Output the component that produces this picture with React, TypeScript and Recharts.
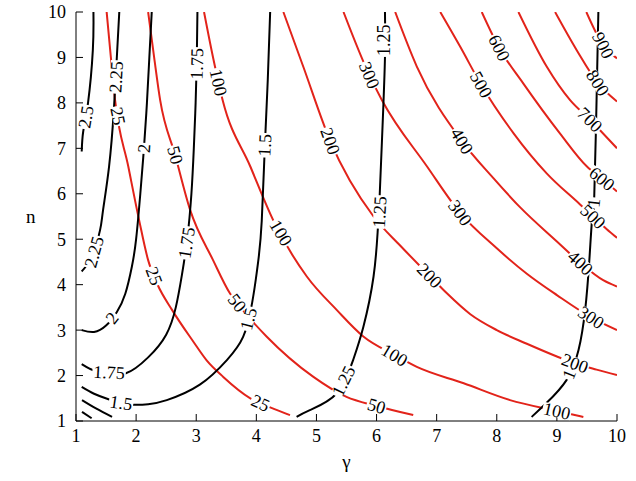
import React from "react";
import { ComposedChart, Line, XAxis, YAxis, ReferenceDot } from "recharts";

type Pt = { g: number; n: number };

const gammaTicks = [1, 2, 3, 4, 5, 6, 7, 8, 9, 10];
const nTicks = [1, 2, 3, 4, 5, 6, 7, 8, 9, 10];

// black contours
const black250: Pt[] = [
  { g: 1.29, n: 10 }, { g: 1.28, n: 9.16 }, { g: 1.2, n: 8.0 }, { g: 1.12, n: 7.37 }, { g: 1.095, n: 6.93 },
];
const black225: Pt[] = [
  { g: 1.72, n: 10 }, { g: 1.68, n: 9.02 }, { g: 1.63, n: 7.84 }, { g: 1.55, n: 6.6 }, { g: 1.45, n: 5.64 },
  { g: 1.4, n: 5.2 }, { g: 1.3, n: 4.72 }, { g: 1.23, n: 4.51 }, { g: 1.095, n: 4.29 },
];
const black200: Pt[] = [
  { g: 2.26, n: 10 }, { g: 2.22, n: 9 }, { g: 2.18, n: 8 }, { g: 2.13, n: 7 }, { g: 2.07, n: 6 },
  { g: 2.0, n: 5.0 }, { g: 1.93, n: 4.4 }, { g: 1.82, n: 3.8 }, { g: 1.68, n: 3.4 }, { g: 1.5, n: 3.1 },
  { g: 1.3, n: 2.96 }, { g: 1.095, n: 3.0 },
];
const black175: Pt[] = [
  { g: 3.02, n: 10 }, { g: 3.01, n: 9 }, { g: 2.99, n: 8 }, { g: 2.96, n: 7 }, { g: 2.92, n: 6 },
  { g: 2.85, n: 5.0 }, { g: 2.76, n: 4.2 }, { g: 2.66, n: 3.5 }, { g: 2.5, n: 2.9 }, { g: 2.2, n: 2.4 },
  { g: 1.83, n: 2.05 }, { g: 1.55, n: 2.07 }, { g: 1.32, n: 2.1 }, { g: 1.095, n: 2.25 },
];
const black150: Pt[] = [
  { g: 4.23, n: 10 }, { g: 4.19, n: 8.5 }, { g: 4.14, n: 7 }, { g: 4.09, n: 5.4 }, { g: 4.03, n: 4.5 },
  { g: 3.93, n: 3.6 }, { g: 3.78, n: 2.85 }, { g: 3.51, n: 2.34 }, { g: 3.06, n: 1.8 }, { g: 2.51, n: 1.46 },
  { g: 2.2, n: 1.37 }, { g: 1.95, n: 1.36 }, { g: 1.75, n: 1.4 }, { g: 1.54, n: 1.48 }, { g: 1.3, n: 1.6 },
  { g: 1.095, n: 1.75 },
];
const black125: Pt[] = [
  { g: 6.14, n: 10 }, { g: 6.14, n: 9 }, { g: 6.1, n: 7.5 }, { g: 6.05, n: 5.9 }, { g: 6.02, n: 5.2 },
  { g: 5.95, n: 4.18 }, { g: 5.78, n: 3.07 }, { g: 5.61, n: 2.34 }, { g: 5.34, n: 1.61 }, { g: 4.89, n: 1.24 },
  { g: 4.67, n: 1.09 },
];
const black125Corner: Pt[] = [{ g: 1.1, n: 1.46 }, { g: 1.34, n: 1.27 }, { g: 1.6, n: 1.09 }];
const black100: Pt[] = [
  { g: 9.69, n: 10 }, { g: 9.66, n: 8.06 }, { g: 9.62, n: 5.86 }, { g: 9.59, n: 5.5 }, { g: 9.54, n: 4.54 },
  { g: 9.47, n: 3.44 }, { g: 9.36, n: 2.56 }, { g: 9.16, n: 1.9 }, { g: 8.83, n: 1.4 }, { g: 8.58, n: 1.09 },
];
const black100Corner: Pt[] = [{ g: 1.1, n: 1.2 }, { g: 1.26, n: 1.06 }];

// red contours
const red25: Pt[] = [
  { g: 1.51, n: 10 }, { g: 1.58, n: 9 }, { g: 1.65, n: 8.06 }, { g: 1.87, n: 6.6 }, { g: 2.05, n: 5.42 },
  { g: 2.2, n: 4.54 }, { g: 2.35, n: 4.02 }, { g: 2.6, n: 3.44 }, { g: 2.95, n: 2.75 }, { g: 3.17, n: 2.34 },
  { g: 3.45, n: 1.97 }, { g: 3.9, n: 1.5 }, { g: 4.23, n: 1.3 }, { g: 4.56, n: 1.13 },
];
const red50: Pt[] = [
  { g: 2.2, n: 10 }, { g: 2.3, n: 9 }, { g: 2.4, n: 8.06 }, { g: 2.65, n: 6.85 }, { g: 2.9, n: 5.64 },
  { g: 3.28, n: 4.54 }, { g: 3.56, n: 3.81 }, { g: 3.75, n: 3.48 }, { g: 4.17, n: 2.86 }, { g: 4.95, n: 1.97 },
  { g: 5.5, n: 1.53 }, { g: 6.0, n: 1.33 }, { g: 6.61, n: 1.13 },
];
const red100: Pt[] = [
  { g: 3.13, n: 10 }, { g: 3.28, n: 9 }, { g: 3.44, n: 8.06 }, { g: 3.9, n: 6.6 }, { g: 4.28, n: 5.42 },
  { g: 4.84, n: 4.18 }, { g: 5.34, n: 3.44 }, { g: 5.78, n: 2.86 }, { g: 6.3, n: 2.45 }, { g: 6.67, n: 2.19 },
  { g: 7.45, n: 1.83 }, { g: 8.22, n: 1.46 }, { g: 9.0, n: 1.22 }, { g: 9.44, n: 1.09 },
];
const red200: Pt[] = [
  { g: 4.45, n: 10 }, { g: 4.78, n: 8.8 }, { g: 5.23, n: 7.16 }, { g: 5.95, n: 5.5 }, { g: 6.4, n: 4.85 },
  { g: 6.88, n: 4.2 }, { g: 7.17, n: 3.81 }, { g: 7.56, n: 3.35 }, { g: 8.0, n: 3.0 }, { g: 8.5, n: 2.7 },
  { g: 9.0, n: 2.42 }, { g: 9.3, n: 2.27 }, { g: 9.66, n: 2.13 }, { g: 10, n: 2.01 },
];
const red300: Pt[] = [
  { g: 5.45, n: 10 }, { g: 5.88, n: 8.61 }, { g: 6.09, n: 8.06 }, { g: 6.84, n: 6.6 }, { g: 7.39, n: 5.58 },
  { g: 8.0, n: 4.8 }, { g: 8.5, n: 4.24 }, { g: 9.0, n: 3.77 }, { g: 9.57, n: 3.28 }, { g: 10, n: 3.0 },
];
const red400: Pt[] = [
  { g: 6.31, n: 10 }, { g: 6.67, n: 8.8 }, { g: 7.42, n: 7.16 }, { g: 7.94, n: 6.35 }, { g: 8.39, n: 5.7 },
  { g: 9.0, n: 4.95 }, { g: 9.39, n: 4.48 }, { g: 9.77, n: 4.1 }, { g: 10, n: 3.96 },
];
const red500: Pt[] = [
  { g: 7.06, n: 10 }, { g: 7.39, n: 9.24 }, { g: 7.74, n: 8.4 }, { g: 8.28, n: 7.33 }, { g: 8.83, n: 6.45 },
  { g: 9.39, n: 5.76 }, { g: 9.6, n: 5.5 }, { g: 9.83, n: 5.22 }, { g: 10, n: 5.03 },
];
const red600: Pt[] = [
  { g: 7.75, n: 10 }, { g: 8.04, n: 9.21 }, { g: 8.44, n: 8.43 }, { g: 9.05, n: 7.33 }, { g: 9.5, n: 6.6 },
  { g: 9.75, n: 6.33 }, { g: 10, n: 6.05 },
];
const red700: Pt[] = [{ g: 8.36, n: 10 }, { g: 8.83, n: 8.8 }, { g: 9.22, n: 8.06 }, { g: 9.55, n: 7.63 }, { g: 10, n: 7.0 }];
const red800: Pt[] = [{ g: 8.97, n: 10 }, { g: 9.33, n: 9.16 }, { g: 9.68, n: 8.44 }, { g: 10, n: 8.03 }];
const red900: Pt[] = [{ g: 9.49, n: 10 }, { g: 9.77, n: 9.27 }, { g: 10, n: 8.98 }];

const blackCurves = [black250, black225, black200, black175, black150, black125, black125Corner, black100, black100Corner];
const redCurves = [red25, red50, red100, red200, red300, red400, red500, red600, red700, red800, red900];

// contour labels: text, curve it sits on, and where
const contourLabels: { text: string; curve: Pt[]; g: number; n: number }[] = [
  { text: "2.5", curve: black250, g: 1.165, n: 7.69 },
  { text: "2.25", curve: black225, g: 1.665, n: 8.57 },
  { text: "2.25", curve: black225, g: 1.3, n: 4.72 },
  { text: "2", curve: black200, g: 2.13, n: 7.0 },
  { text: "2", curve: black200, g: 1.6, n: 3.27 },
  { text: "1.75", curve: black175, g: 3.01, n: 8.86 },
  { text: "1.75", curve: black175, g: 2.84, n: 4.92 },
  { text: "1.75", curve: black175, g: 1.55, n: 2.07 },
  { text: "1.5", curve: black150, g: 4.14, n: 7.07 },
  { text: "1.5", curve: black150, g: 3.87, n: 3.25 },
  { text: "1.5", curve: black150, g: 1.75, n: 1.4 },
  { text: "1.25", curve: black125, g: 6.12, n: 9.38 },
  { text: "1.25", curve: black125, g: 6.05, n: 5.6 },
  { text: "1.25", curve: black125, g: 5.45, n: 1.88 },
  { text: "1", curve: black100, g: 9.61, n: 5.8 },
  { text: "1", curve: black100, g: 9.2, n: 2.03 },
  { text: "25", curve: red25, g: 1.7, n: 7.71 },
  { text: "25", curve: red25, g: 2.3, n: 4.19 },
  { text: "25", curve: red25, g: 4.07, n: 1.4 },
  { text: "50", curve: red50, g: 2.65, n: 6.85 },
  { text: "50", curve: red50, g: 3.68, n: 3.6 },
  { text: "50", curve: red50, g: 6.0, n: 1.33 },
  { text: "100", curve: red100, g: 3.37, n: 8.45 },
  { text: "100", curve: red100, g: 4.41, n: 5.14 },
  { text: "100", curve: red100, g: 6.3, n: 2.45 },
  { text: "100", curve: red100, g: 9.0, n: 1.22 },
  { text: "200", curve: red200, g: 5.23, n: 7.16 },
  { text: "200", curve: red200, g: 6.88, n: 4.2 },
  { text: "200", curve: red200, g: 9.3, n: 2.27 },
  { text: "300", curve: red300, g: 5.88, n: 8.61 },
  { text: "300", curve: red300, g: 7.39, n: 5.58 },
  { text: "300", curve: red300, g: 9.57, n: 3.28 },
  { text: "400", curve: red400, g: 7.42, n: 7.16 },
  { text: "400", curve: red400, g: 9.39, n: 4.48 },
  { text: "500", curve: red500, g: 7.74, n: 8.4 },
  { text: "500", curve: red500, g: 9.6, n: 5.5 },
  { text: "600", curve: red600, g: 8.04, n: 9.21 },
  { text: "600", curve: red600, g: 9.75, n: 6.33 },
  { text: "700", curve: red700, g: 9.55, n: 7.63 },
  { text: "800", curve: red800, g: 9.68, n: 8.44 },
  { text: "900", curve: red900, g: 9.77, n: 9.27 },
];

const W = 636;
const H = 481;
const MARGIN = { top: 12, right: 19, bottom: 0, left: 0 };
const Y_AXIS_W = 76;
const X_AXIS_H = 60;
const PLOT_W = W - MARGIN.left - MARGIN.right - Y_AXIS_W;
const PLOT_H = H - MARGIN.top - MARGIN.bottom - X_AXIS_H;
const SX = PLOT_W / 9;
const SY = PLOT_H / 9;

const RED = "#e2231a";
const FONT = '"Liberation Serif", "Times New Roman", Times, serif';
const LABEL_FS = 18;

// direction of the curve at the label, in screen degrees, kept readable
function tangentAngle(curve: Pt[], g: number, n: number) {
  let best = 0;
  let bestD = Infinity;
  const px = g * SX;
  const py = -n * SY;
  for (let i = 0; i < curve.length - 1; i++) {
    const ax = curve[i].g * SX, ay = -curve[i].n * SY;
    const dx = curve[i + 1].g * SX - ax, dy = -curve[i + 1].n * SY - ay;
    const len = dx * dx + dy * dy || 1;
    const t = Math.max(0, Math.min(1, ((px - ax) * dx + (py - ay) * dy) / len));
    const d = (ax + t * dx - px) ** 2 + (ay + t * dy - py) ** 2;
    if (d < bestD) {
      bestD = d;
      best = i;
    }
  }
  const a = curve[best];
  const b = curve[best + 1];
  let ang = (Math.atan2(-(b.n - a.n) * SY, (b.g - a.g) * SX) * 180) / Math.PI;
  while (ang >= 90) ang -= 180;
  while (ang < -90) ang += 180;
  return ang;
}

function textWidth(s: string) {
  let w = 0;
  for (const c of s) w += c === "." ? 0.25 : 0.5;
  return w * LABEL_FS;
}

const ContourLabel = ({ cx, cy, text, angle }: { cx: number; cy: number; text: string; angle: number }) => {
  const w = textWidth(text) + 2;
  const h = 12;
  return (
    <g transform={`translate(${cx},${cy}) rotate(${angle})`}>
      <rect x={-w / 2} y={-h / 2} width={w} height={h} fill="#fff" />
      <text x={0} y={0} dy="0.34em" textAnchor="middle" fontSize={LABEL_FS} fontFamily={FONT} fill="#000">
        {text}
      </text>
    </g>
  );
};

const tickStyle = { fill: "#000", fontSize: 18, fontFamily: FONT };
const axisTitle = { fill: "#000", fontSize: 19, fontFamily: FONT };

export default function App() {
  return (
    <div style={{ position: "absolute", left: 0, top: 0, background: "#fff", fontFamily: FONT }}>
      <ComposedChart width={W} height={H} margin={MARGIN} style={{ fontFamily: FONT }}>
        <XAxis
          type="number"
          dataKey="g"
          domain={[1, 10]}
          ticks={gammaTicks}
          interval={0}
          allowDataOverflow
          height={X_AXIS_H}
          tickSize={-7}
          tickMargin={15}
          stroke="#000"
          tick={tickStyle}
          label={{ value: "γ", position: "insideBottom", offset: 13, style: axisTitle }}
        />
        <XAxis
          xAxisId="top"
          orientation="top"
          type="number"
          domain={[1, 10]}
          ticks={gammaTicks}
          interval={0}
          allowDataOverflow
          height={0}
          tickSize={-7}
          tick={false}
          stroke="#000"
        />
        <YAxis
          type="number"
          dataKey="n"
          domain={[1, 10]}
          ticks={nTicks}
          interval={0}
          allowDataOverflow
          width={Y_AXIS_W}
          tickSize={-7}
          tickMargin={17}
          stroke="#000"
          tick={tickStyle}
          label={{ value: "n", position: "insideLeft", offset: 26, style: axisTitle }}
        />
        <YAxis
          yAxisId="right"
          orientation="right"
          type="number"
          domain={[1, 10]}
          ticks={nTicks}
          interval={0}
          allowDataOverflow
          width={0}
          tickSize={-7}
          tick={false}
          stroke="#000"
        />
        {redCurves.map((c, i) => (
          <Line
            key={"r" + i}
            data={c}
            dataKey="n"
            type="monotone"
            stroke={RED}
            strokeWidth={2}
            dot={false}
            activeDot={false}
            isAnimationActive={false}
          />
        ))}
        {blackCurves.map((c, i) => (
          <Line
            key={"b" + i}
            data={c}
            dataKey="n"
            type="natural"
            stroke="#000"
            strokeWidth={2}
            dot={false}
            activeDot={false}
            isAnimationActive={false}
          />
        ))}
        {contourLabels.map((l, i) => {
          const angle = tangentAngle(l.curve, l.g, l.n);
          return (
            <ReferenceDot
              key={"l" + i}
              x={l.g}
              y={l.n}
              r={0}
              shape={(p: any) => <ContourLabel cx={p.cx} cy={p.cy} text={l.text} angle={angle} />}
            />
          );
        })}
      </ComposedChart>
    </div>
  );
}
